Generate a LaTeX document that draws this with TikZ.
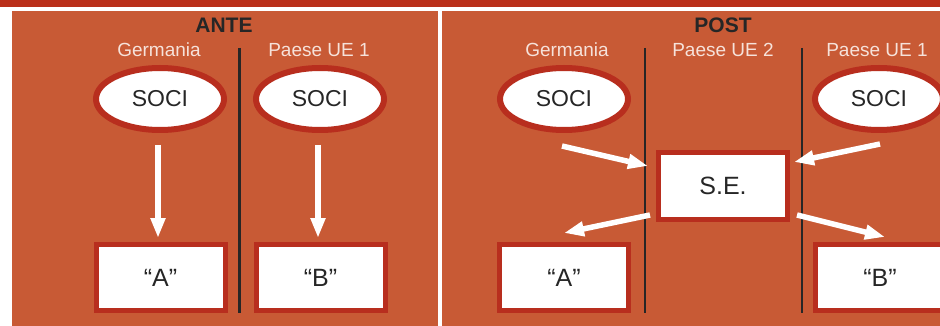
\documentclass[tikz,border=0pt]{standalone}
\usepackage{fontspec}
\setmainfont{Liberation Sans}
\usetikzlibrary{arrows.meta,shapes.geometric}
\definecolor{panel}{HTML}{C85A35}
\definecolor{rim}{HTML}{B82E1E}
\definecolor{band}{HTML}{BA2F1A}
\definecolor{ink}{HTML}{262626}
\definecolor{pale}{HTML}{F6E2DA}
\tikzset{
  soci/.style={ellipse, draw=rim, line width=6pt, fill=white, minimum width=128pt, minimum height=62pt, inner sep=0pt, font=\fontsize{23}{23}\selectfont, text=ink},
  entity/.style={rectangle, draw=rim, line width=5pt, fill=white, minimum width=129pt, minimum height=66pt, inner sep=0pt, font=\fontsize{25}{25}\selectfont, text=ink},
  head/.style={font=\bfseries\fontsize{21}{21}\selectfont, text=ink},
  country/.style={font=\fontsize{19}{19}\selectfont, text=pale},
  divider/.style={draw=ink, line width=2.6pt},
  flow/.style={draw=white, line width=5.5pt, -{Triangle[length=20pt,width=14pt]}}
}
\begin{document}
\begin{tikzpicture}[x=1pt,y=-1pt]
\useasboundingbox (0,0) rectangle (940,326);
% background: top band, panels
\fill[white] (0,0) rectangle (940,326);
\fill[band] (0,0) rectangle (940,7.5);
\fill[panel] (12,11.5) rectangle (438,326);
\fill[panel] (441.5,11.5) rectangle (940,326);

\begin{scope}
\clip (0,0) rectangle (940,326);
% ANTE panel
\node[head] (ante) at (224,25) {ANTE};
\node[country] (gerA) at (159,50) {Germania};
\node[country] (ue1A) at (319,50) {Paese UE 1};
\coordinate (divAtop) at (239.5,48);
\coordinate (divAbot) at (239.5,313);
\draw[divider] (divAtop) -- (divAbot);
\node[soci] (sociA1) at (160,99) {SOCI};
\node[soci] (sociA2) at (320,99) {SOCI};
\node[entity] (boxA) at (160.5,277.5) {“A”};
\node[entity] (boxB) at (320.5,277.5) {“B”};
\coordinate (a1s) at (158,145);
\coordinate (a1e) at (158,238);
\coordinate (a2s) at (318,145);
\coordinate (a2e) at (318,238);
\draw[flow] (a1s) -- (a1e);
\draw[flow] (a2s) -- (a2e);

% POST panel
\node[head] (post) at (723,25) {POST};
\node[country] (gerP) at (567,50) {Germania};
\node[country] (ue2P) at (723,50) {Paese UE 2};
\node[country] (ue1P) at (877,50) {Paese UE 1};
\coordinate (d1top) at (645,48);
\coordinate (d1bot) at (645,313);
\coordinate (d2top) at (802,48);
\coordinate (d2bot) at (802,313);
\draw[divider] (d1top) -- (d1bot);
\draw[divider] (d2top) -- (d2bot);
\node[soci] (sociP1) at (564,99) {SOCI};
\node[soci] (sociP2) at (879,99) {SOCI};
\node[entity] (se) at (723,186) {S.E.};
\node[entity] (boxPA) at (564,277.5) {“A”};
\node[entity] (boxPB) at (880,277.5) {“B”};
\coordinate (p1s) at (562,146);
\coordinate (p1e) at (648,166);
\coordinate (p2s) at (880,144);
\coordinate (p2e) at (794,162);
\coordinate (p3s) at (650,215);
\coordinate (p3e) at (564,233);
\coordinate (p4s) at (797,215);
\coordinate (p4e) at (885,237);
\draw[flow] (p1s) -- (p1e);
\draw[flow] (p2s) -- (p2e);
\draw[flow] (p3s) -- (p3e);
\draw[flow] (p4s) -- (p4e);
\end{scope}
\end{tikzpicture}
\end{document}
